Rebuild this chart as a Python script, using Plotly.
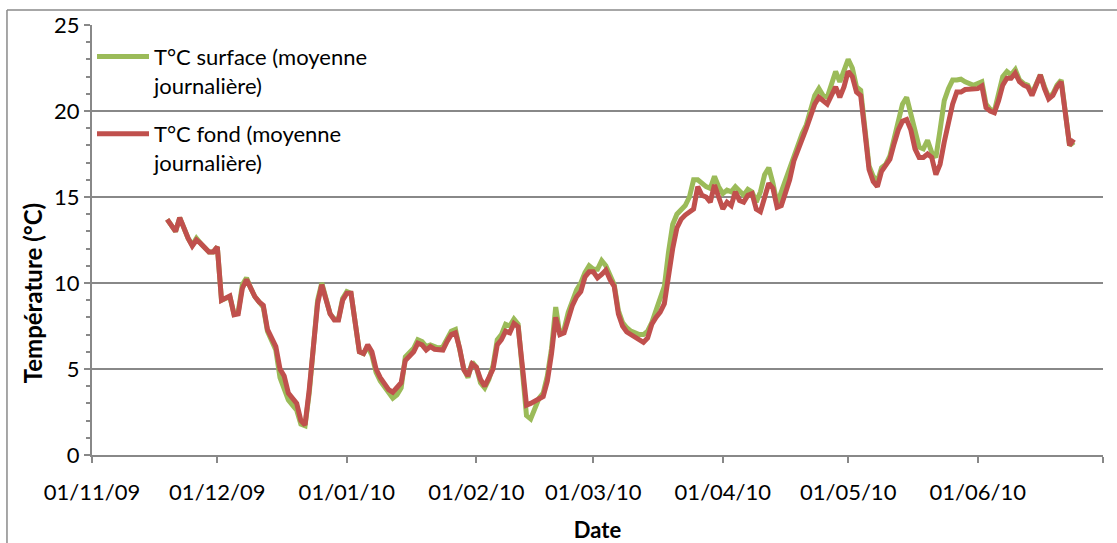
import pandas as pd
import plotly.graph_objects as go

# daily means, 19/11/2009 -> 24/06/2010
START_DATE = "2009-11-19"

temp_surface = [
    13.7, 13.3, 13.0, 13.8, 13.1, 12.6, 12.2, 12.6, 12.3, 12.0, 11.8, 11.8, 12.1,
    9.0, 9.1, 9.2, 8.2, 8.3, 9.9, 10.3, 9.7, 9.2, 8.9, 8.6, 7.2, 6.6, 6.1, 4.5,
    3.9, 3.2, 2.9, 2.6, 1.8, 1.7, 3.6, 6.6, 9.0, 10.0, 9.0, 8.2, 7.9, 7.9, 9.1,
    9.5, 9.4, 7.9, 6.0, 5.9, 6.3, 5.8, 4.8, 4.3, 4.0, 3.6, 3.3, 3.5, 3.9, 5.7,
    6.0, 6.2, 6.7, 6.6, 6.3, 6.4, 6.3, 6.2, 6.3, 6.8, 7.2, 7.3, 6.3, 5.0, 4.5,
    5.4, 5.1, 4.2, 3.9, 4.4, 5.2, 6.7, 7.0, 7.6, 7.5, 7.9, 7.6, 4.8, 2.3, 2.1,
    2.8, 3.3, 3.6, 4.6, 6.2, 8.6, 7.0, 7.3, 8.3, 9.0, 9.6, 10.0, 10.6, 11.0,
    10.8, 10.8, 11.3, 11.0, 10.4, 9.9, 8.4, 7.7, 7.4, 7.2, 7.1, 7.0, 7.0, 7.2,
    7.7, 8.4, 9.3, 9.8, 11.8, 13.4, 14.0, 14.3, 14.5, 15.0, 16.0, 16.0, 15.8,
    15.6, 15.5, 16.2, 15.6, 15.2, 15.4, 15.3, 15.6, 15.3, 15.1, 15.45, 15.3,
    14.7, 15.3, 16.3, 16.7, 15.8, 14.6, 15.3, 16.0, 16.7, 17.5, 18.1, 18.7,
    19.2, 20.0, 20.9, 21.3, 20.9, 20.8, 21.5, 22.3, 21.7, 22.3, 23.0, 22.5,
    21.4, 21.2, 18.8, 16.8, 16.2, 15.9, 16.7, 16.9, 17.4, 18.5, 19.5, 20.4,
    20.8, 19.9, 18.8, 17.9, 17.8, 18.3, 17.6, 17.3, 18.9, 20.6, 21.3, 21.8,
    21.8, 21.85, 21.7, 21.6, 21.5, 21.6, 21.7, 20.4, 20.1, 20.0, 21.0, 22.0,
    22.3, 22.1, 22.4, 21.8, 21.6, 21.5, 21.0, 21.6, 22.1, 21.4, 20.8, 21.0,
    21.5, 21.8, 20.0, 18.0, 18.2,
]

temp_fond = [
    13.7, 13.3, 13.0, 13.8, 13.1, 12.6, 12.15, 12.5, 12.3, 12.0, 11.8, 11.8, 12.1,
    9.0, 9.1, 9.25, 8.15, 8.2, 9.7, 10.2, 9.7, 9.2, 8.9, 8.7, 7.3, 6.8, 6.3, 5.0,
    4.6, 3.6, 3.3, 3.0, 2.0, 1.75, 3.8, 6.5, 8.8, 9.9, 8.9, 8.2, 7.85, 7.85, 9.0,
    9.4, 9.4, 7.9, 6.0, 5.9, 6.4, 6.0, 5.0, 4.5, 4.1, 3.8, 3.65, 3.9, 4.2, 5.5,
    5.8, 6.0, 6.5, 6.4, 6.1, 6.3, 6.15, 6.1, 6.1, 6.6, 7.0, 7.1, 6.2, 4.95, 4.6,
    5.3, 5.1, 4.4, 4.0, 4.5, 5.0, 6.4, 6.7, 7.2, 7.1, 7.65, 7.45, 5.2, 2.9, 3.0,
    3.15, 3.3, 3.4, 4.3, 5.9, 8.0, 7.0, 7.1, 8.0, 8.7, 9.2, 9.5, 10.35, 10.65,
    10.65, 10.3, 10.5, 10.75, 10.2, 9.8, 8.2, 7.5, 7.15, 7.0, 6.8, 6.65, 6.55,
    6.8, 7.6, 8.0, 8.3, 8.8, 10.5, 12.0, 13.2, 13.7, 13.95, 14.1, 14.3, 15.6,
    15.1, 15.0, 14.7, 15.7, 15.0, 14.3, 14.7, 14.5, 15.3, 14.8, 14.7, 15.1, 15.2,
    14.3, 14.15, 14.9, 15.8, 15.5, 14.4, 14.5, 15.2, 16.0, 17.1, 17.7, 18.4,
    19.0, 19.7, 20.4, 20.8, 20.6, 20.4, 20.9, 21.4, 20.8, 21.4, 22.3, 22.0,
    21.1, 20.9, 18.8, 16.6, 15.9, 15.6, 16.5, 16.9, 17.2, 18.1, 18.9, 19.4,
    19.5, 18.9, 17.8, 17.3, 17.3, 17.5, 17.3, 16.3, 16.9, 18.2, 19.4, 20.4,
    21.1, 21.1, 21.25, 21.25, 21.25, 21.3, 21.45, 20.2, 20.0, 19.9, 20.6, 21.5,
    21.9, 21.9, 22.2, 21.7, 21.5, 21.4, 20.9, 21.5, 22.1, 21.3, 20.7, 20.9,
    21.4, 21.7, 19.9, 18.0, 18.35,
]

month_ticks = ["2009-11-01", "2009-12-01", "2010-01-01", "2010-02-01",
               "2010-03-01", "2010-04-01", "2010-05-01", "2010-06-01", "2010-07-01"]
month_labels = ["01/11/09", "01/12/09", "01/01/10", "01/02/10",
                "01/03/10", "01/04/10", "01/05/10", "01/06/10", ""]

dates = pd.date_range(START_DATE, periods=len(temp_fond), freq="D")

GREEN = "#9BBB59"
RED = "#C0504D"
GRID = "#888888"
FONT = "Lato, 'Open Sans', sans-serif"

fig = go.Figure()
fig.add_trace(go.Scatter(
    x=dates, y=temp_surface, mode="lines",
    name="T°C surface (moyenne<br>journalière)",
    line=dict(color=GREEN, width=5),
    legendgroup="surface",
))
fig.add_trace(go.Scatter(
    x=dates, y=temp_fond, mode="lines",
    name="T°C fond (moyenne<br>journalière)",
    line=dict(color=RED, width=5),
    legendgroup="fond",
))

# outer chart frame (left and top edges visible in the crop)
for x0, y0, x1, y1 in [(-0.0841, -0.25, -0.0841, 1.0349), (-0.0841, 1.0349, 1.1, 1.0349)]:
    fig.add_shape(type="line", xref="paper", yref="paper",
                  x0=x0, y0=y0, x1=x1, y1=y1,
                  line=dict(color="#8a8a8a", width=1.5))

# y title sits a bit below the middle of the axis in the original
fig.add_annotation(
    text="<b>Température (°C)</b>", textangle=-90,
    xref="paper", yref="paper", x=-0.058, y=0.377,
    xanchor="center", yanchor="middle", showarrow=False,
    font=dict(size=24),
)

fig.update_layout(
    width=1117, height=543,
    margin=dict(l=92, r=14, t=25, b=88),
    paper_bgcolor="white", plot_bgcolor="white",
    font=dict(family=FONT, size=22, color="black"),
    showlegend=True,
    legend=dict(
        x=0.0, y=0.975, xanchor="left", yanchor="top",
        bgcolor="rgba(0,0,0,0)", font=dict(size=22),
        traceorder="grouped", tracegroupgap=17,
        itemwidth=52, valign="top",
    ),
    xaxis=dict(
        type="date",
        range=["2009-11-01", "2010-07-01"],
        tickmode="array", tickvals=month_ticks, ticktext=month_labels,
        ticks="outside", ticklen=6, tickcolor=GRID, tickwidth=1.5,
        ticklabelstandoff=11,
        showgrid=False, showline=True, linecolor=GRID, linewidth=2,
        zeroline=False, automargin=False,
        title=dict(text="<b>Date</b>", font=dict(size=22), standoff=20),
    ),
    yaxis=dict(
        range=[0, 25], dtick=5, tick0=0,
        ticks="outside", ticklen=6, tickcolor=GRID, tickwidth=1.5,
        minor=dict(dtick=1, ticks="outside", ticklen=4, tickcolor=GRID, showgrid=False),
        showgrid=True, gridcolor=GRID, gridwidth=2,
        showline=True, linecolor=GRID, linewidth=2,
        zeroline=False, automargin=False,
    ),
)

# the page body has a default 8px margin; drop it so the figure sits at 0,0
fig.write_html("out.html", config={"displayModeBar": False},
               post_script="document.body.style.margin='0';")
